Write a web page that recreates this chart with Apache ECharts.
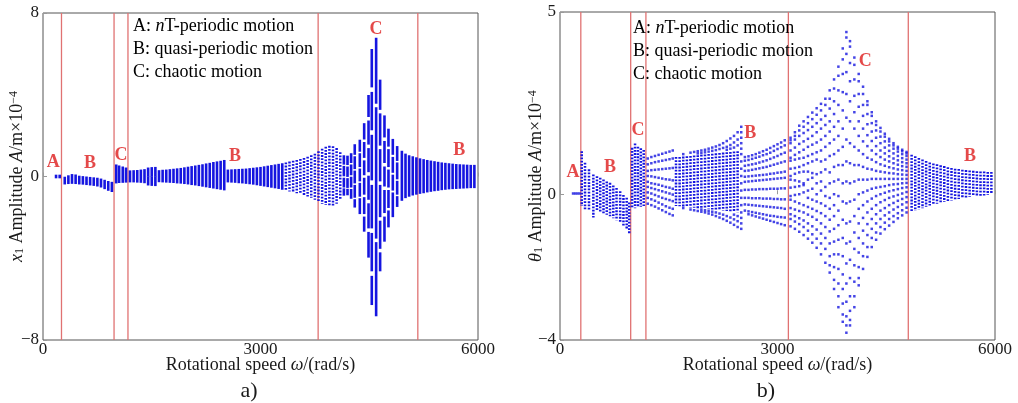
<!DOCTYPE html>
<html>
<head>
<meta charset="utf-8">
<script src="https://cdn.jsdelivr.net/npm/echarts@6/dist/echarts.min.js"></script>
<style>
html,body{margin:0;padding:0;background:#fff;}
#chart{width:1018px;height:403px;}
</style>
</head>
<body>
<div id="chart"></div>
<script>
// ---------- shared ----------
const speedTicks = [0, 3000, 6000];

// ---------- panel a) : x1 amplitude ----------
// solid strips [omega, upper, lower]; several rows per omega give broken strips
const x1Strips = [
  [180,0.05,-0.05],[230,0.05,-0.05],
  [300,-0.05,-0.35],[350,0.02,-0.33],[400,0.08,-0.32],[450,0.06,-0.33],[500,0.0,-0.35],[550,-0.02,-0.36],
  [600,-0.04,-0.38],[650,-0.06,-0.4],[700,-0.08,-0.42],[750,-0.1,-0.45],[800,-0.14,-0.5],[850,-0.2,-0.58],
  [900,-0.26,-0.66],[950,-0.3,-0.72],
  [1010,0.55,-0.3],[1050,0.5,-0.28],[1100,0.45,-0.27],[1145,0.4,-0.26],
  [1200,0.26,-0.25],[1250,0.27,-0.25],[1300,0.28,-0.26],[1350,0.3,-0.27],[1400,0.32,-0.29],
  [1450,0.4,0.03],[1450,-0.03,-0.4],[1500,0.42,0.03],[1500,-0.03,-0.42],[1550,0.43,0.03],[1550,-0.03,-0.43],
  [1600,0.27,-0.24],[1650,0.29,-0.25],[1700,0.3,-0.26],[1750,0.32,-0.27],[1800,0.34,-0.28],[1850,0.36,-0.3],
  [1900,0.38,-0.31],[1950,0.41,-0.33],[2000,0.44,-0.35],[2050,0.47,-0.38],[2100,0.5,-0.4],[2150,0.53,-0.43],
  [2200,0.56,-0.46],[2250,0.6,-0.49],[2300,0.63,-0.52],[2350,0.67,-0.55],[2400,0.7,-0.58],[2450,0.73,-0.61],
  [2500,0.77,-0.64],
  [2550,0.3,-0.25],[2600,0.31,-0.26],[2650,0.32,-0.27],[2700,0.33,-0.29],[2750,0.34,-0.3],[2800,0.35,-0.32],
  [2850,0.37,-0.34],[2900,0.39,-0.36],[2950,0.41,-0.39],[3000,0.43,-0.42],[3050,0.46,-0.45],[3100,0.49,-0.48],
  [3150,0.52,-0.51],[3200,0.55,-0.54],[3250,0.58,-0.57],[3300,0.61,-0.61],
  [4150,1.0,0.62],[4150,0.48,0.05],[4150,-0.1,-0.5],[4150,-0.62,-0.9],
  [4200,0.98,0.6],[4200,0.45,0.02],[4200,-0.12,-0.52],[4200,-0.64,-0.88],
  [4250,1.1,0.7],[4250,0.55,0.1],[4250,-0.05,-0.5],[4250,-0.65,-1.05],
  [4300,1.54,1.1],[4300,0.95,0.4],[4300,0.25,-0.3],[4300,-0.45,-1.0],[4300,-1.15,-1.48],
  [4370,1.76,1.25],[4370,1.1,0.5],[4370,0.35,-0.2],[4370,-0.35,-0.95],[4370,-1.1,-1.8],
  [4430,2.57,1.85],[4430,1.65,0.95],[4430,0.75,0.1],[4430,-0.1,-0.85],[4430,-1.05,-1.8],[4430,-2.0,-2.66],
  [4490,3.95,2.95],[4490,2.7,1.6],[4490,1.35,0.25],[4490,0.0,-1.1],[4490,-1.35,-2.5],[4490,-2.75,-3.93],
  [4535,6.2,4.4],[4535,4.1,2.3],[4535,2.0,-0.15],[4535,-0.45,-2.5],[4535,-2.8,-4.6],[4535,-4.9,-6.25],
  [4595,6.75,3.6],[4595,3.35,-3.0],[4595,-3.25,-6.8],
  [4650,4.7,3.3],[4650,3.05,1.55],[4650,1.3,-0.2],[4650,-0.45,-1.95],[4650,-2.2,-3.5],[4650,-3.75,-4.6],
  [4710,2.95,1.95],[4710,1.7,0.7],[4710,0.45,-0.45],[4710,-0.7,-1.75],[4710,-2.0,-3.15],
  [4765,2.3,1.5],[4765,1.3,0.5],[4765,0.3,-0.5],[4765,-0.7,-1.5],[4765,-1.7,-2.45],
  [4825,1.8,1.1],[4825,0.92,0.22],[4825,0.05,-0.65],[4825,-0.82,-1.95],
  [4885,1.45,0.8],[4885,0.65,-0.1],[4885,-0.25,-0.85],[4885,-1.0,-1.45],
  [4950,1.22,-1.15],[5000,1.08,-1.02],[5050,1.0,-0.95],[5100,0.95,-0.89],[5150,0.9,-0.85],[5200,0.85,-0.81],
  [5250,0.81,-0.78],[5300,0.77,-0.74],[5350,0.74,-0.71],[5400,0.71,-0.68],[5450,0.68,-0.66],[5500,0.65,-0.63],
  [5550,0.63,-0.61],[5600,0.61,-0.59],[5650,0.59,-0.58],[5700,0.57,-0.57],[5750,0.56,-0.56],[5800,0.55,-0.55],
  [5850,0.54,-0.54],[5900,0.53,-0.53],[5950,0.53,-0.53]
];
// dotted strips [omega, upper, lower]
const x1DottedStrips = [
  [3350,0.65,-0.66],[3400,0.69,-0.7],[3450,0.73,-0.74],[3500,0.77,-0.78],[3550,0.82,-0.83],[3600,0.87,-0.88],
  [3650,0.93,-0.94],[3700,1.0,-1.0],[3750,1.08,-1.1],[3800,1.2,-1.22],[3850,1.32,-1.3],[3900,1.42,-1.36],
  [3950,1.46,-1.4],[4000,1.44,-1.38],[4050,1.35,-1.3],[4100,1.15,-1.05]
];
const x1Boundaries = [255, 980, 1172, 3795, 5170];
const x1Tags = [
  [140,0.7,'A'],[650,0.66,'B'],[1076,1.05,'C'],[2650,1.0,'B'],[4593,7.2,'C'],[5740,1.3,'B']
];
const x1Ticks = [-8, 0, 8];

// ---------- panel b) : theta1 amplitude ----------
// dense dotted columns [omega, upper, lower]
const th1Columns = [
  [300,1.16,-0.3],[345,0.84,-0.39],[400,0.66,-0.44],[460,0.52,-0.62],[510,0.47,-0.44],[555,0.43,-0.46],
  [600,0.38,-0.5],[645,0.33,-0.54],[690,0.29,-0.58],[735,0.22,-0.64],[780,0.15,-0.69],[830,0.06,-0.76],
  [875,-0.04,-0.85],[920,-0.12,-0.95],[955,-0.25,-1.07],
  [995,1.25,-0.38],[1035,1.37,-0.36],[1075,1.28,-0.34],[1115,1.24,-0.32],[1155,1.19,-0.3],
  [1600,1.0,-0.3],[1650,1.0,-0.31],[1700,1.01,-0.32],[1750,1.02,-0.33],[1800,1.03,-0.34],[1850,1.04,-0.35],
  [1900,1.05,-0.36],[1950,1.06,-0.37],[2000,1.07,-0.38],[2050,1.08,-0.39],[2100,1.09,-0.4],[2150,1.1,-0.41],
  [2200,1.11,-0.42],[2250,1.12,-0.43],[2300,1.13,-0.44],[2350,1.14,-0.45],[2400,1.15,-0.46],[2450,1.16,-0.47],
  [4850,1.06,-0.47],[4900,1.02,-0.44],[4950,0.97,-0.4],[5000,0.93,-0.36],[5050,0.89,-0.32],[5100,0.85,-0.29],
  [5150,0.82,-0.26],[5200,0.8,-0.24],[5250,0.77,-0.21],[5300,0.75,-0.19],[5350,0.72,-0.17],[5400,0.7,-0.15],
  [5450,0.68,-0.13],[5500,0.67,-0.11],[5550,0.65,-0.09],[5600,0.64,-0.07],[5650,0.63,-0.05],[5700,0.62,-0.04],
  [5750,0.61,-0.03],[5800,0.6,-0.02],[5850,0.6,-0.01],[5900,0.59,0.0],[5950,0.59,0.02]
];
// single Poincare points, grouped by omega: [omega, [values]]
const th1Points = [
  [180,[0.02]],[210,[0.02]],[240,[0.02]],[270,[0.02]],
  [1210,[0.98,0.82,0.64,0.5,0.34,0.2,0.05,-0.1,-0.26]],
  [1260,[1.02,0.85,0.66,0.49,0.3,0.17,0.02,-0.14,-0.3]],
  [1310,[1.05,0.88,0.67,0.47,0.28,0.14,-0.02,-0.18,-0.34]],
  [1360,[1.08,0.9,0.68,0.45,0.26,0.11,-0.06,-0.23,-0.39]],
  [1410,[1.11,0.92,0.69,0.43,0.23,0.08,-0.1,-0.28,-0.44]],
  [1460,[1.14,0.94,0.7,0.41,0.2,0.05,-0.13,-0.33,-0.49]],
  [1510,[1.17,0.96,0.71,0.4,0.18,0.02,-0.16,-0.37,-0.54]],
  [1555,[1.2,0.98,0.72,0.38,0.15,-0.01,-0.19,-0.4,-0.58]],
  [1700,[1.1,-0.38]],[1800,[1.14,-0.42]],[1850,[1.16,-0.44]],[1900,[1.18,1.12,-0.46]],
  [1950,[1.2,1.13,-0.48,-0.42]],[2000,[1.22,1.15,-0.5,-0.44]],[2050,[1.25,1.17,-0.53,-0.46]],
  [2100,[1.28,1.19,-0.56,-0.48]],[2150,[1.31,1.21,-0.6,-0.5]],[2200,[1.35,1.24,-0.64,-0.53]],
  [2250,[1.4,1.27,-0.68,-0.56]],[2300,[1.46,1.3,1.22,-0.73,-0.6]],[2350,[1.53,1.35,1.25,-0.78,-0.64]],
  [2400,[1.6,1.42,1.28,-0.84,-0.69,-0.56]],[2450,[1.7,1.5,1.34,-0.9,-0.74,-0.6]],
  [2500,[1.85,1.7,1.55,1.4,1.25,1.1,0.9,0.7,0.5,0.3,0.1,-0.1,-0.3,-0.5,-0.65,-0.8,-0.95]],
  [2550,[1.02,0.92,0.78,0.64,0.48,0.34,0.12,-0.1,-0.28,-0.45]],
  [2600,[1.04,0.94,0.8,0.65,0.49,0.35,0.12,-0.1,-0.29,-0.47,-0.55]],
  [2650,[1.07,0.97,0.82,0.67,0.5,0.36,0.13,-0.11,-0.3,-0.49,-0.58]],
  [2700,[1.1,1.0,0.84,0.69,0.51,0.37,0.13,-0.11,-0.31,-0.51,-0.61]],
  [2750,[1.14,1.03,0.87,0.71,0.52,0.38,0.14,-0.11,-0.32,-0.53,-0.64]],
  [2800,[1.18,1.07,0.9,0.73,0.53,0.39,0.14,-0.12,-0.33,-0.55,-0.67]],
  [2850,[1.22,1.1,0.93,0.75,0.54,0.4,0.14,-0.12,-0.34,-0.57,-0.7]],
  [2900,[1.27,1.14,0.97,0.78,0.56,0.41,0.15,-0.12,-0.35,-0.59,-0.73]],
  [2950,[1.32,1.19,1.01,0.81,0.57,0.42,0.15,-0.13,-0.36,-0.6,-0.76]],
  [3000,[1.37,1.24,1.05,0.84,0.59,0.43,0.15,-0.13,-0.37,-0.62,-0.79]],
  [3050,[1.42,1.29,1.1,0.87,0.6,0.44,0.16,-0.14,-0.38,-0.63,-0.82]],
  [3100,[1.48,1.34,1.14,0.9,0.62,0.45,0.16,-0.14,-0.4,-0.64,-0.85]],
  [3180,[1.55,1.48,1.4,1.2,1.0,0.92,0.7,0.5,0.4,0.18,-0.05,-0.15,-0.38,-0.55,-0.68,-0.88]],
  [3240,[1.7,1.6,1.5,1.28,1.08,0.95,0.72,0.56,0.38,0.2,-0.02,-0.2,-0.42,-0.6,-0.75,-0.95]],
  [3300,[1.88,1.75,1.6,1.38,1.15,0.98,0.75,0.6,0.35,0.22,0.0,-0.25,-0.46,-0.66,-0.82,-1.03]],
  [3360,[2.0,1.85,1.68,1.45,1.22,1.0,0.8,0.62,0.3,0.25,0.05,-0.3,-0.5,-0.72,-0.9,-1.12]],
  [3420,[2.12,1.95,1.76,1.52,1.3,1.05,0.85,0.62,0.4,0.1,-0.1,-0.35,-0.56,-0.8,-1.0,-1.22]],
  [3480,[2.24,2.06,1.85,1.6,1.36,1.1,0.9,0.58,0.45,0.15,-0.15,-0.4,-0.62,-0.88,-1.1,-1.33]],
  [3540,[2.36,2.18,1.95,1.7,1.42,1.15,0.95,0.55,0.3,0.0,-0.2,-0.46,-0.7,-0.97,-1.22,-1.47]],
  [3600,[2.48,2.3,2.05,1.8,1.5,1.2,0.9,0.6,0.35,0.1,-0.25,-0.52,-0.8,-1.08,-1.35,-1.65]],
  [3660,[2.62,2.45,2.15,1.9,1.6,1.3,0.95,0.68,0.2,-0.05,-0.32,-0.6,-0.9,-1.2,-1.5,-1.88]],
  [3720,[2.85,2.62,2.35,2.0,1.72,1.4,1.05,0.6,0.3,-0.1,-0.4,-0.7,-1.02,-1.35,-1.7,-1.95,-2.15]],
  [3780,[3.15,2.9,2.55,2.2,1.85,1.5,1.1,0.75,0.35,0.0,-0.3,-0.6,-0.95,-1.3,-1.65,-2.0,-2.35,-2.6]],
  [3840,[3.5,3.25,2.85,2.45,2.0,1.6,1.2,0.8,0.4,-0.05,-0.45,-0.85,-1.25,-1.65,-2.05,-2.45,-2.8,-3.1]],
  [3900,[4.0,3.7,3.3,2.8,2.3,1.8,1.3,0.8,0.3,-0.2,-0.7,-1.2,-1.7,-2.2,-2.6,-3.0,-3.3,-3.5]],
  [3950,[4.45,4.3,3.85,3.35,2.75,2.1,1.5,0.9,0.35,-0.25,-0.8,-1.35,-1.9,-2.45,-2.95,-3.35,-3.6,-3.8]],
  [4000,[4.2,4.05,3.6,3.1,2.55,2.0,1.4,0.85,0.3,-0.2,-0.75,-1.3,-1.8,-2.3,-2.8,-3.2,-3.45,-3.6]],
  [4060,[3.75,3.55,3.15,2.7,2.25,1.8,1.3,0.8,0.35,-0.15,-0.6,-1.05,-1.5,-1.95,-2.4,-2.8,-3.1]],
  [4120,[3.3,3.1,2.75,2.4,2.0,1.6,1.2,0.8,0.4,0.0,-0.4,-0.8,-1.2,-1.6,-2.0,-2.3,-2.5]],
  [4180,[2.95,2.75,2.45,2.15,1.8,1.45,1.1,0.75,0.4,0.05,-0.3,-0.65,-1.0,-1.35,-1.7,-2.05]],
  [4240,[2.55,2.45,2.2,1.92,1.62,1.32,1.0,0.7,0.4,0.1,-0.2,-0.5,-0.82,-1.12,-1.45,-1.72]],
  [4300,[2.25,2.15,1.95,1.72,1.46,1.2,0.95,0.68,0.42,0.15,-0.12,-0.4,-0.68,-0.95,-1.2,-1.45]],
  [4360,[2.0,1.9,1.75,1.55,1.32,1.1,0.88,0.64,0.42,0.18,-0.05,-0.3,-0.55,-0.8,-1.05,-1.25]],
  [4420,[1.82,1.72,1.58,1.4,1.2,1.02,0.82,0.62,0.42,0.2,0.0,-0.22,-0.45,-0.68,-0.9,-1.08]],
  [4480,[1.66,1.58,1.45,1.28,1.12,0.95,0.78,0.6,0.42,0.22,0.04,-0.16,-0.38,-0.58,-0.78,-0.96]],
  [4540,[1.52,1.45,1.34,1.19,1.04,0.9,0.74,0.58,0.42,0.25,0.08,-0.1,-0.3,-0.5,-0.68,-0.86]],
  [4600,[1.4,1.34,1.25,1.12,0.98,0.85,0.71,0.57,0.42,0.27,0.11,-0.06,-0.24,-0.42,-0.6,-0.76]],
  [4660,[1.3,1.25,1.17,1.05,0.93,0.81,0.68,0.55,0.42,0.28,0.14,-0.02,-0.18,-0.35,-0.52,-0.66]],
  [4720,[1.22,1.18,1.1,0.99,0.88,0.77,0.66,0.54,0.42,0.3,0.17,0.02,-0.13,-0.28,-0.44,-0.58]],
  [4780,[1.16,1.12,1.05,0.95,0.85,0.75,0.64,0.53,0.42,0.31,0.19,0.06,-0.08,-0.22,-0.37,-0.5]]
];
const th1Boundaries = [287, 975, 1185, 3150, 4804];
const th1Tags = [
  [180,0.6,'A'],[690,0.74,'B'],[1076,1.76,'C'],[2625,1.67,'B'],[4210,3.65,'C'],[5655,1.04,'B']
];
const th1Ticks = [-4, 0, 5];

// ---------- drawing ----------
const SERIF = '"Liberation Serif","Times New Roman",serif';
const BLUE = '#1515e0';
const TEXT = '#1a1a1a';
const BOUND = '#e07272';

function solidStrip(params, api) {
  const a = api.coord([api.value(0), api.value(1)]);
  const b = api.coord([api.value(0), api.value(2)]);
  const w = 2.6;
  return { type: 'rect', shape: { x: a[0] - w / 2, y: a[1] - 0.8, width: w, height: Math.max(b[1] - a[1] + 1.6, 1.6) },
           style: { fill: BLUE } };
}
function dottedStrip(params, api) {
  const a = api.coord([api.value(0), api.value(1)]);
  const b = api.coord([api.value(0), api.value(2)]);
  return { type: 'line', shape: { x1: a[0], y1: a[1] - 0.8, x2: b[0], y2: b[1] + 0.8 },
           style: { stroke: BLUE, lineWidth: 2.5, lineDash: [1.8, 1.4] } };
}
function boundary(params, api) {
  const x = api.coord([api.value(0), 0])[0];
  const cs = params.coordSys;
  return { type: 'line', shape: { x1: x, y1: cs.y, x2: x, y2: cs.y + cs.height },
           style: { stroke: BOUND, lineWidth: 1.3 } };
}

const nameRich = {
  n: { fontFamily: SERIF, fontSize: 18, color: TEXT },
  i: { fontFamily: SERIF, fontSize: 18, color: TEXT, fontStyle: 'italic' },
  sub: { fontFamily: SERIF, fontSize: 12, color: TEXT, verticalAlign: 'bottom' },
  sup: { fontFamily: SERIF, fontSize: 12, color: TEXT, verticalAlign: 'top' }
};

function xAxisFor(grid) {
  return {
    type: 'value', gridIndex: grid, min: speedTicks[0], max: speedTicks[2], interval: speedTicks[1] - speedTicks[0],
    axisLine: { show: false }, splitLine: { show: false },
    axisTick: { inside: true, length: 4, lineStyle: { color: '#999' } },
    axisLabel: { fontFamily: SERIF, fontSize: 17, color: TEXT, margin: 1, formatter: v => String(v) },
    name: '{n|Rotational speed }{i|ω}{n|/(rad/s)}', nameLocation: 'middle', nameGap: 16, nameMoveOverlap: false,
    nameTextStyle: { rich: nameRich, verticalAlign: 'top' }
  };
}
function yAxisFor(grid, ticks, name, gap) {
  return {
    type: 'value', gridIndex: grid, min: ticks[0], max: ticks[2],
    axisLine: { show: false }, splitLine: { show: false },
    axisTick: { show: true, inside: true, length: 4, lineStyle: { color: '#999' }, customValues: ticks },
    axisLabel: {
      fontFamily: SERIF, fontSize: 17, color: TEXT, margin: 4, customValues: ticks,
      formatter: v => (v < 0 ? '\u2212' + Math.abs(v) : String(v))
    },
    name: name, nameLocation: 'middle', nameRotate: 90, nameGap: gap, nameMoveOverlap: false,
    nameTextStyle: { rich: nameRich }
  };
}

function tagSeries(xi, yi, tags) {
  return {
    type: 'scatter', xAxisIndex: xi, yAxisIndex: yi, symbolSize: 0.1, z: 5,
    itemStyle: { color: 'transparent' }, data: tags,
    label: { show: true, position: 'inside', formatter: p => p.data[2],
             fontFamily: SERIF, fontWeight: 'bold', fontSize: 18, color: '#dd1c1c' }
  };
}

function legendBlock(x, y0) {
  const rich = {
    n: { fontFamily: SERIF, fontSize: 18, color: TEXT },
    i: { fontFamily: SERIF, fontSize: 18, color: TEXT, fontStyle: 'italic' }
  };
  const lines = ['{n|A: }{i|n}{n|T-periodic motion}', '{n|B: quasi-periodic motion}', '{n|C: chaotic motion}'];
  return lines.map((t, k) => ({
    type: 'text', x: x, y: y0 + k * 23.3, z: 10,
    style: { text: t, rich: rich, verticalAlign: 'middle' }
  }));
}

const chart = echarts.init(document.getElementById('chart'), null, { renderer: 'canvas' });
chart.setOption({
  backgroundColor: '#ffffff',
  animation: false,
  grid: [
    { left: 43, top: 13, width: 435, height: 327, show: true, borderColor: '#555', borderWidth: 1 },
    { left: 560, top: 12, width: 435, height: 328, show: true, borderColor: '#555', borderWidth: 1 }
  ],
  xAxis: [xAxisFor(0), xAxisFor(1)],
  yAxis: [
    yAxisFor(0, x1Ticks, '{i|x}{sub|1}{n| Amplitude }{i|A}{n|/m×10}{sup|−4}', 17),
    yAxisFor(1, th1Ticks, '{i|θ}{sub|1}{n| Amplitude }{i|A}{n|/m×10}{sup|−4}', 15)
  ],
  series: [
    { type: 'custom', xAxisIndex: 0, yAxisIndex: 0, renderItem: boundary, data: x1Boundaries.map(v => [v]), z: 1, silent: true },
    { type: 'custom', xAxisIndex: 1, yAxisIndex: 1, renderItem: boundary, data: th1Boundaries.map(v => [v]), z: 1, silent: true },
    { type: 'custom', xAxisIndex: 0, yAxisIndex: 0, renderItem: solidStrip, data: x1Strips, encode: { x: 0, y: [1, 2] }, z: 2 },
    { type: 'custom', xAxisIndex: 0, yAxisIndex: 0, renderItem: dottedStrip, data: x1DottedStrips, encode: { x: 0, y: [1, 2] }, z: 2 },
    { type: 'custom', xAxisIndex: 1, yAxisIndex: 1, renderItem: dottedStrip, data: th1Columns, encode: { x: 0, y: [1, 2] }, z: 2 },
    { type: 'scatter', xAxisIndex: 1, yAxisIndex: 1, symbol: 'rect', symbolSize: 2.5, z: 2,
      itemStyle: { color: BLUE }, data: th1Points.flatMap(([w, ys]) => ys.map(y => [w, y])) },
    tagSeries(0, 0, x1Tags),
    tagSeries(1, 1, th1Tags)
  ],
  graphic: [
    ...legendBlock(133, 26),
    ...legendBlock(633, 28),
    { type: 'text', x: 249, y: 391, style: { text: 'a)', fontFamily: SERIF, fontSize: 22, fill: TEXT, align: 'center', verticalAlign: 'middle' } },
    { type: 'text', x: 766, y: 391, style: { text: 'b)', fontFamily: SERIF, fontSize: 22, fill: TEXT, align: 'center', verticalAlign: 'middle' } }
  ]
});
</script>
</body>
</html>
